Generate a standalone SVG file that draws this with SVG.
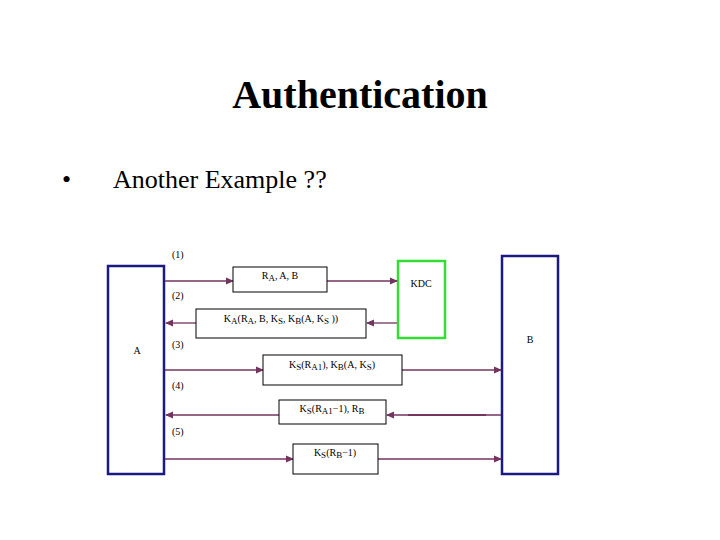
<svg xmlns="http://www.w3.org/2000/svg" width="720" height="540" viewBox="0 0 720 540">
<defs>
<marker id="ah" markerWidth="8" markerHeight="8" refX="7" refY="4" orient="auto" markerUnits="userSpaceOnUse"><path d="M0,0.5 L8,4 L0,7.5 Z" fill="#73345f"/></marker>
</defs>
<style>
text{font-family:"Liberation Serif",serif;fill:#000}
.ent{fill:#fff;stroke:#1a1a80;stroke-width:2.5}
.msg{fill:#fff;stroke:#000;stroke-width:1}
.c{stroke:#73345f;stroke-width:1.3;fill:none;marker-end:url(#ah)}
.s{font-size:10px}
.l{font-size:9px}
</style>
<rect width="720" height="540" fill="#fff"/>
<text x="360" y="108" font-size="40" font-weight="bold" text-anchor="middle">Authentication</text>
<text x="62" y="188" font-size="26">•</text>
<text x="113" y="188" font-size="26">Another Example ??</text>
<g id="A"><rect class="ent" x="108" y="266" width="56" height="208"/><text class="s" x="137" y="354" text-anchor="middle">A</text></g>
<g id="B"><rect class="ent" x="502" y="256" width="56" height="218"/><text class="s" x="530" y="343" text-anchor="middle">B</text></g>
<g id="KDC"><rect x="398" y="261" width="47" height="77" fill="#fff" stroke="#33dd33" stroke-width="2.5"/><text class="s" x="421" y="287" text-anchor="middle">KDC</text></g>
<g id="labels" class="s">
<text x="172" y="258">(1)</text><text x="172" y="299">(2)</text><text x="172" y="348">(3)</text><text x="172" y="389">(4)</text><text x="172" y="435">(5)</text>
</g>
<g id="connectors">
<line class="c" x1="165" y1="281" x2="233" y2="281"/>
<line class="c" x1="327" y1="281" x2="397" y2="281"/>
<line class="c" x1="397" y1="323" x2="367" y2="323"/>
<line class="c" x1="196" y1="323" x2="166" y2="323"/>
<line class="c" x1="165" y1="370" x2="263" y2="370"/>
<line class="c" x1="402" y1="370" x2="501" y2="370"/>
<line class="c" x1="501" y1="415" x2="387" y2="415"/>
<line x1="408" y1="415" x2="486" y2="415" stroke="#73345f" stroke-width="2"/>
<line class="c" x1="279" y1="415" x2="166" y2="415"/>
<line class="c" x1="165" y1="459" x2="293" y2="459"/>
<line class="c" x1="378" y1="459" x2="501" y2="459" stroke-width="2.2"/>
</g>
<g id="m1"><rect class="msg" x="233" y="267" width="94" height="25"/><text class="s" x="280" y="279" text-anchor="middle">R<tspan class="l" dy="2">A</tspan><tspan dy="-2">, A, B</tspan></text></g>
<g id="m2"><rect class="msg" x="196" y="309" width="170" height="29"/><text class="s" x="281" y="322" text-anchor="middle">K<tspan class="l" dy="2">A</tspan><tspan dy="-2">(R</tspan><tspan class="l" dy="2">A</tspan><tspan dy="-2">, B, K</tspan><tspan class="l" dy="2">S</tspan><tspan dy="-2">, K</tspan><tspan class="l" dy="2">B</tspan><tspan dy="-2">(A, K</tspan><tspan class="l" dy="2">S</tspan><tspan dy="-2"> ))</tspan></text></g>
<g id="m3"><rect class="msg" x="263" y="355" width="139" height="30"/><text class="s" x="332" y="368" text-anchor="middle">K<tspan class="l" dy="2">S</tspan><tspan dy="-2">(R</tspan><tspan class="l" dy="2">A1</tspan><tspan dy="-2">), K</tspan><tspan class="l" dy="2">B</tspan><tspan dy="-2">(A, K</tspan><tspan class="l" dy="2">S</tspan><tspan dy="-2">)</tspan></text></g>
<g id="m4"><rect class="msg" x="279" y="400" width="107" height="24"/><text class="s" x="332" y="412" text-anchor="middle">K<tspan class="l" dy="2">S</tspan><tspan dy="-2">(R</tspan><tspan class="l" dy="2">A1</tspan><tspan dy="-2">−1), R</tspan><tspan class="l" dy="2">B</tspan></text></g>
<g id="m5"><rect class="msg" x="293" y="444" width="85" height="30"/><text class="s" x="335" y="456" text-anchor="middle">K<tspan class="l" dy="2">S</tspan><tspan dy="-2">(R</tspan><tspan class="l" dy="2">B</tspan><tspan dy="-2">−1)</tspan></text></g>
</svg>
